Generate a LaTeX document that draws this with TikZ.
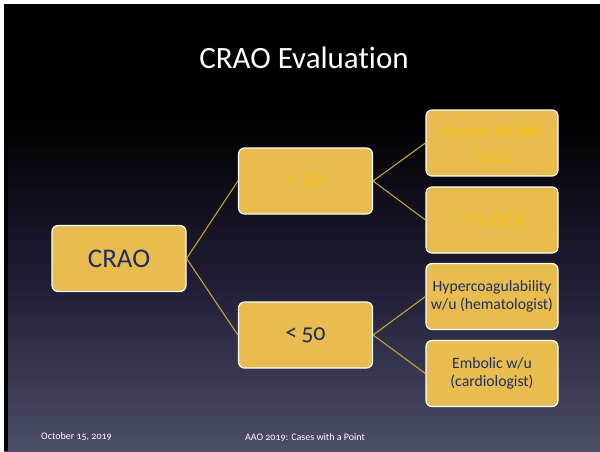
\documentclass[tikz,border=0pt]{standalone}
\usepackage{fontspec}
\setmainfont{Carlito}[Numbers=OldStyle, Ligatures=NoCommon]
\definecolor{boxfill}{RGB}{232,188,78}
\definecolor{navy}{RGB}{31,46,96}
\definecolor{goldtxt}{RGB}{246,192,16}
\definecolor{linegold}{RGB}{200,160,52}
\definecolor{bgmid}{RGB}{32,29,54}
\definecolor{bgbot}{RGB}{76,78,106}
\tikzset{
  box/.style={rectangle, rounded corners=6pt, fill=boxfill, draw=white, line width=1.2pt,
    minimum width=134pt, minimum height=66pt, inner sep=2pt, align=center},
  smallbox/.style={box, minimum width=132pt},
  link/.style={draw=linegold, line width=1.1pt},
}
\begin{document}
\begin{tikzpicture}[x=1pt,y=-1pt]
\useasboundingbox (0,0) rectangle (600,451);
\fill[white] (0,0) rectangle (600,451);
\fill[black] (4,4) rectangle (600,118);
\shade[top color=black, bottom color=bgbot, middle color=bgmid] (4,117) rectangle (600,451);
\fill[black] (4,4) rectangle (7.5,451);
\node[text=white, font=\fontsize{31}{34}\selectfont] (title) at (304,58) {CRAO Evaluation};
\node[box, text=navy, font=\fontsize{27}{30}\selectfont] (crao) at (119,258.5) {CRAO};
\node[box, text=goldtxt, font=\fontsize{24}{28}\selectfont] (gt) at (305.5,181) {>\,50};
\node[box, text=navy, font=\fontsize{24}{28}\selectfont] (lt) at (305.5,335) {<\,50};
\node[smallbox, text=goldtxt, font=\fontsize{20}{25}\selectfont] (acute) at (492,143) {Acute stroke\\w/u};
\node[smallbox, text=goldtxt, font=\fontsize{20}{25}\selectfont] (gca) at (492,220) {r/o GCA};
\node[smallbox, text=navy, font=\fontsize{15.7}{17.5}\selectfont] (hyper) at (492,296.5) {Hypercoagulability\\w/u (hematologist)};
\node[smallbox, text=navy, font=\fontsize{15.7}{17.5}\selectfont] (embolic) at (492,373.5) {Embolic w/u\\(cardiologist)};
\draw[link] (crao.east) -- (gt.west);
\draw[link] (crao.east) -- (lt.west);
\draw[link] (gt.east) -- (acute.west);
\draw[link] (gt.east) -- (gca.west);
\draw[link] (lt.east) -- (hyper.west);
\draw[link] (lt.east) -- (embolic.west);
\node[text=white, font=\fontsize{10}{11}\selectfont, anchor=west, inner sep=0pt] (date) at (41,437) {October 15, 2019};
\node[text=white, font=\fontsize{10}{11}\selectfont] (foot) at (305,437) {AAO 2019: Cases with a Point};
\end{tikzpicture}
\end{document}
